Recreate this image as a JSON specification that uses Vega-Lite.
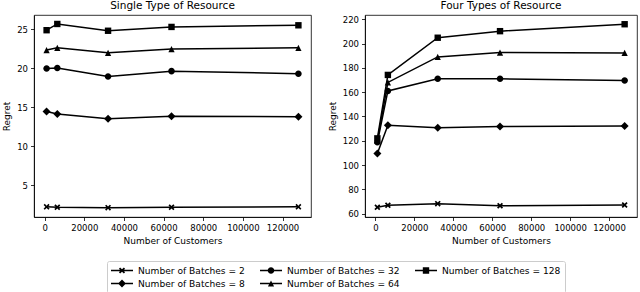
{
  "$schema": "https://vega.github.io/schema/vega-lite/v6.json",
  "padding": {"left": 2, "top": 0, "right": 0, "bottom": 0},
  "config": {
    "font": "DejaVu Sans",
    "view": {"stroke": "black", "strokeWidth": 0.8},
    "axis": {"labelFont": "DejaVu Sans", "labelFontSize": 8.5, "labelColor": "black", "titleFont": "DejaVu Sans", "titleFontSize": 9, "titleFontWeight": "normal", "titleColor": "black", "tickColor": "black", "tickSize": 3.5, "tickWidth": 0.8, "domainColor": "black", "domainWidth": 0.8, "grid": false, "labelPadding": 3, "labelFlush": false, "labelOverlap": false},
    "title": {"font": "DejaVu Sans", "fontSize": 10.5, "fontWeight": "normal", "color": "black", "offset": 4}
  },
  "datasets": {
    "single": [
      {"customers": 1000, "regret": 2.2, "series": "Number of Batches = 2"},
      {"customers": 6400, "regret": 2.15, "series": "Number of Batches = 2"},
      {"customers": 32000, "regret": 2.1, "series": "Number of Batches = 2"},
      {"customers": 64000, "regret": 2.15, "series": "Number of Batches = 2"},
      {"customers": 128000, "regret": 2.2, "series": "Number of Batches = 2"},
      {"customers": 1000, "regret": 14.44, "series": "Number of Batches = 8"},
      {"customers": 6400, "regret": 14.1, "series": "Number of Batches = 8"},
      {"customers": 32000, "regret": 13.5, "series": "Number of Batches = 8"},
      {"customers": 64000, "regret": 13.82, "series": "Number of Batches = 8"},
      {"customers": 128000, "regret": 13.75, "series": "Number of Batches = 8"},
      {"customers": 1000, "regret": 19.95, "series": "Number of Batches = 32"},
      {"customers": 6400, "regret": 20.0, "series": "Number of Batches = 32"},
      {"customers": 32000, "regret": 18.92, "series": "Number of Batches = 32"},
      {"customers": 64000, "regret": 19.6, "series": "Number of Batches = 32"},
      {"customers": 128000, "regret": 19.27, "series": "Number of Batches = 32"},
      {"customers": 1000, "regret": 22.3, "series": "Number of Batches = 64"},
      {"customers": 6400, "regret": 22.6, "series": "Number of Batches = 64"},
      {"customers": 32000, "regret": 21.95, "series": "Number of Batches = 64"},
      {"customers": 64000, "regret": 22.43, "series": "Number of Batches = 64"},
      {"customers": 128000, "regret": 22.6, "series": "Number of Batches = 64"},
      {"customers": 1000, "regret": 24.85, "series": "Number of Batches = 128"},
      {"customers": 6400, "regret": 25.65, "series": "Number of Batches = 128"},
      {"customers": 32000, "regret": 24.78, "series": "Number of Batches = 128"},
      {"customers": 64000, "regret": 25.27, "series": "Number of Batches = 128"},
      {"customers": 128000, "regret": 25.48, "series": "Number of Batches = 128"}
    ],
    "four": [
      {"customers": 1000, "regret": 65.3, "series": "Number of Batches = 2"},
      {"customers": 6400, "regret": 67.0, "series": "Number of Batches = 2"},
      {"customers": 32000, "regret": 68.3, "series": "Number of Batches = 2"},
      {"customers": 64000, "regret": 66.5, "series": "Number of Batches = 2"},
      {"customers": 128000, "regret": 67.2, "series": "Number of Batches = 2"},
      {"customers": 1000, "regret": 109.5, "series": "Number of Batches = 8"},
      {"customers": 6400, "regret": 132.8, "series": "Number of Batches = 8"},
      {"customers": 32000, "regret": 130.7, "series": "Number of Batches = 8"},
      {"customers": 64000, "regret": 131.7, "series": "Number of Batches = 8"},
      {"customers": 128000, "regret": 132.2, "series": "Number of Batches = 8"},
      {"customers": 1000, "regret": 118.8, "series": "Number of Batches = 32"},
      {"customers": 6400, "regret": 161.0, "series": "Number of Batches = 32"},
      {"customers": 32000, "regret": 171.0, "series": "Number of Batches = 32"},
      {"customers": 64000, "regret": 171.0, "series": "Number of Batches = 32"},
      {"customers": 128000, "regret": 169.6, "series": "Number of Batches = 32"},
      {"customers": 1000, "regret": 120.0, "series": "Number of Batches = 64"},
      {"customers": 6400, "regret": 168.0, "series": "Number of Batches = 64"},
      {"customers": 32000, "regret": 189.0, "series": "Number of Batches = 64"},
      {"customers": 64000, "regret": 192.6, "series": "Number of Batches = 64"},
      {"customers": 128000, "regret": 192.3, "series": "Number of Batches = 64"},
      {"customers": 1000, "regret": 122.0, "series": "Number of Batches = 128"},
      {"customers": 6400, "regret": 174.2, "series": "Number of Batches = 128"},
      {"customers": 32000, "regret": 204.8, "series": "Number of Batches = 128"},
      {"customers": 64000, "regret": 210.2, "series": "Number of Batches = 128"},
      {"customers": 128000, "regret": 215.9, "series": "Number of Batches = 128"}
    ]
  },
  "bounds": "flush",
  "spacing": 54,
  "hconcat": [
    {
      "width": 277,
      "height": 202,
      "title": "Single Type of Resource",
      "data": {"name": "single"},
      "layer": [
        {
          "mark": {"type": "line", "color": "black", "strokeWidth": 1.5},
          "encoding": {
            "x": {"field": "customers", "type": "quantitative", "scale": {"domain": [-5350, 134350], "nice": false, "zero": false}, "axis": {"values": [0, 20000, 40000, 60000, 80000, 100000, 120000], "tickCount": 10, "format": "d", "title": "Number of Customers", "titlePadding": 4, "labelOverlap": false}},
            "y": {"field": "regret", "type": "quantitative", "scale": {"domain": [0.9, 26.8], "nice": false, "zero": false}, "axis": {"values": [5, 10, 15, 20, 25], "tickCount": 10, "title": "Regret", "titlePadding": 5, "labelOverlap": false}},
            "detail": {"field": "series"}
          }
        },
        {
          "mark": {"type": "point", "filled": true, "color": "black", "opacity": 1, "size": 64, "strokeWidth": 0},
          "encoding": {
            "x": {"field": "customers", "type": "quantitative"},
            "y": {"field": "regret", "type": "quantitative"},
            "shape": {"field": "series", "type": "nominal", "legend": null, "scale": {
              "domain": ["Number of Batches = 2", "Number of Batches = 8", "Number of Batches = 32", "Number of Batches = 64", "Number of Batches = 128"],
              "range": [
                "M-0.75,-0.45L-0.45,-0.75L0,-0.3L0.45,-0.75L0.75,-0.45L0.3,0L0.75,0.45L0.45,0.75L0,0.3L-0.45,0.75L-0.75,0.45L-0.3,0Z",
                "M0,-1L1,0L0,1L-1,0Z",
                "M0.82,0A0.82,0.82,0,1,1,-0.82,0A0.82,0.82,0,1,1,0.82,0Z",
                "M0,-0.78L0.78,0.78L-0.78,0.78Z",
                "M-0.8,-0.8H0.8V0.8H-0.8Z"
              ]}}
          }
        },
        {
          "transform": [{"filter": "false"}],
          "mark": {"type": "point", "filled": true, "color": "black", "opacity": 1},
          "encoding": {
            "shape": {"field": "series", "type": "nominal", "scale": {
              "domain": ["Number of Batches = 2", "Number of Batches = 32", "Number of Batches = 128", "Number of Batches = 8", "Number of Batches = 64"],
              "range": [
                "M-1,-0.065H1V0.065H-1ZM-0.28,-0.17L-0.17,-0.28L0,-0.11L0.17,-0.28L0.28,-0.17L0.11,0L0.28,0.17L0.17,0.28L0,0.11L-0.17,0.28L-0.28,0.17L-0.11,0Z",
                "M-1,-0.065H1V0.065H-1ZM0.3,0A0.3,0.3,0,1,1,-0.3,0A0.3,0.3,0,1,1,0.3,0Z",
                "M-1,-0.065H1V0.065H-1ZM-0.29,-0.29H0.29V0.29H-0.29Z",
                "M-1,-0.065H1V0.065H-1ZM0,-0.36L0.36,0L0,0.36L-0.36,0Z",
                "M-1,-0.065H1V0.065H-1ZM0,-0.28L0.28,0.28L-0.28,0.28Z"
              ]},
              "legend": {
                "title": null, "orient": "none", "legendX": 73, "legendY": 246, "direction": "horizontal", "columns": 3,
                "symbolSize": 484, "clipHeight": 11, "labelFont": "DejaVu Sans", "labelFontSize": 9.1, "labelColor": "black", "labelOffset": 5, "columnPadding": 15, "rowPadding": 2,
                "padding": 4, "strokeColor": "#cccccc", "fillColor": "white", "cornerRadius": 2, "labelLimit": 300,
                "symbolFillColor": "black", "symbolStrokeWidth": 0,
                "encode": {"symbols": {"update": {"fill": {"value": "black"}, "strokeWidth": {"value": 0}, "opacity": {"value": 1}}}}
              }
            }
          }
        }
      ],
      "resolve": {"scale": {"shape": "independent"}, "legend": {"shape": "independent"}}
    },
    {
      "width": 272,
      "height": 202,
      "title": "Four Types of Resource",
      "data": {"name": "four"},
      "layer": [
        {
          "mark": {"type": "line", "color": "black", "strokeWidth": 1.5},
          "encoding": {
            "x": {"field": "customers", "type": "quantitative", "scale": {"domain": [-5350, 134350], "nice": false, "zero": false}, "axis": {"values": [0, 20000, 40000, 60000, 80000, 100000, 120000], "tickCount": 10, "format": "d", "title": "Number of Customers", "titlePadding": 4, "labelOverlap": false}},
            "y": {"field": "regret", "type": "quantitative", "scale": {"domain": [57.3, 223.5], "nice": false, "zero": false}, "axis": {"values": [60, 80, 100, 120, 140, 160, 180, 200, 220], "tickCount": 12, "title": "Regret", "titlePadding": 5, "labelOverlap": false}},
            "detail": {"field": "series"}
          }
        },
        {
          "mark": {"type": "point", "filled": true, "color": "black", "opacity": 1, "size": 64, "strokeWidth": 0},
          "encoding": {
            "x": {"field": "customers", "type": "quantitative"},
            "y": {"field": "regret", "type": "quantitative"},
            "shape": {"field": "series", "type": "nominal", "legend": null, "scale": {
              "domain": ["Number of Batches = 2", "Number of Batches = 8", "Number of Batches = 32", "Number of Batches = 64", "Number of Batches = 128"],
              "range": [
                "M-0.75,-0.45L-0.45,-0.75L0,-0.3L0.45,-0.75L0.75,-0.45L0.3,0L0.75,0.45L0.45,0.75L0,0.3L-0.45,0.75L-0.75,0.45L-0.3,0Z",
                "M0,-1L1,0L0,1L-1,0Z",
                "M0.82,0A0.82,0.82,0,1,1,-0.82,0A0.82,0.82,0,1,1,0.82,0Z",
                "M0,-0.78L0.78,0.78L-0.78,0.78Z",
                "M-0.8,-0.8H0.8V0.8H-0.8Z"
              ]}}
          }
        }
      ]
    }
  ],
  "resolve": {"scale": {"shape": "independent", "x": "independent", "y": "independent"}, "legend": {"shape": "independent"}}
}
